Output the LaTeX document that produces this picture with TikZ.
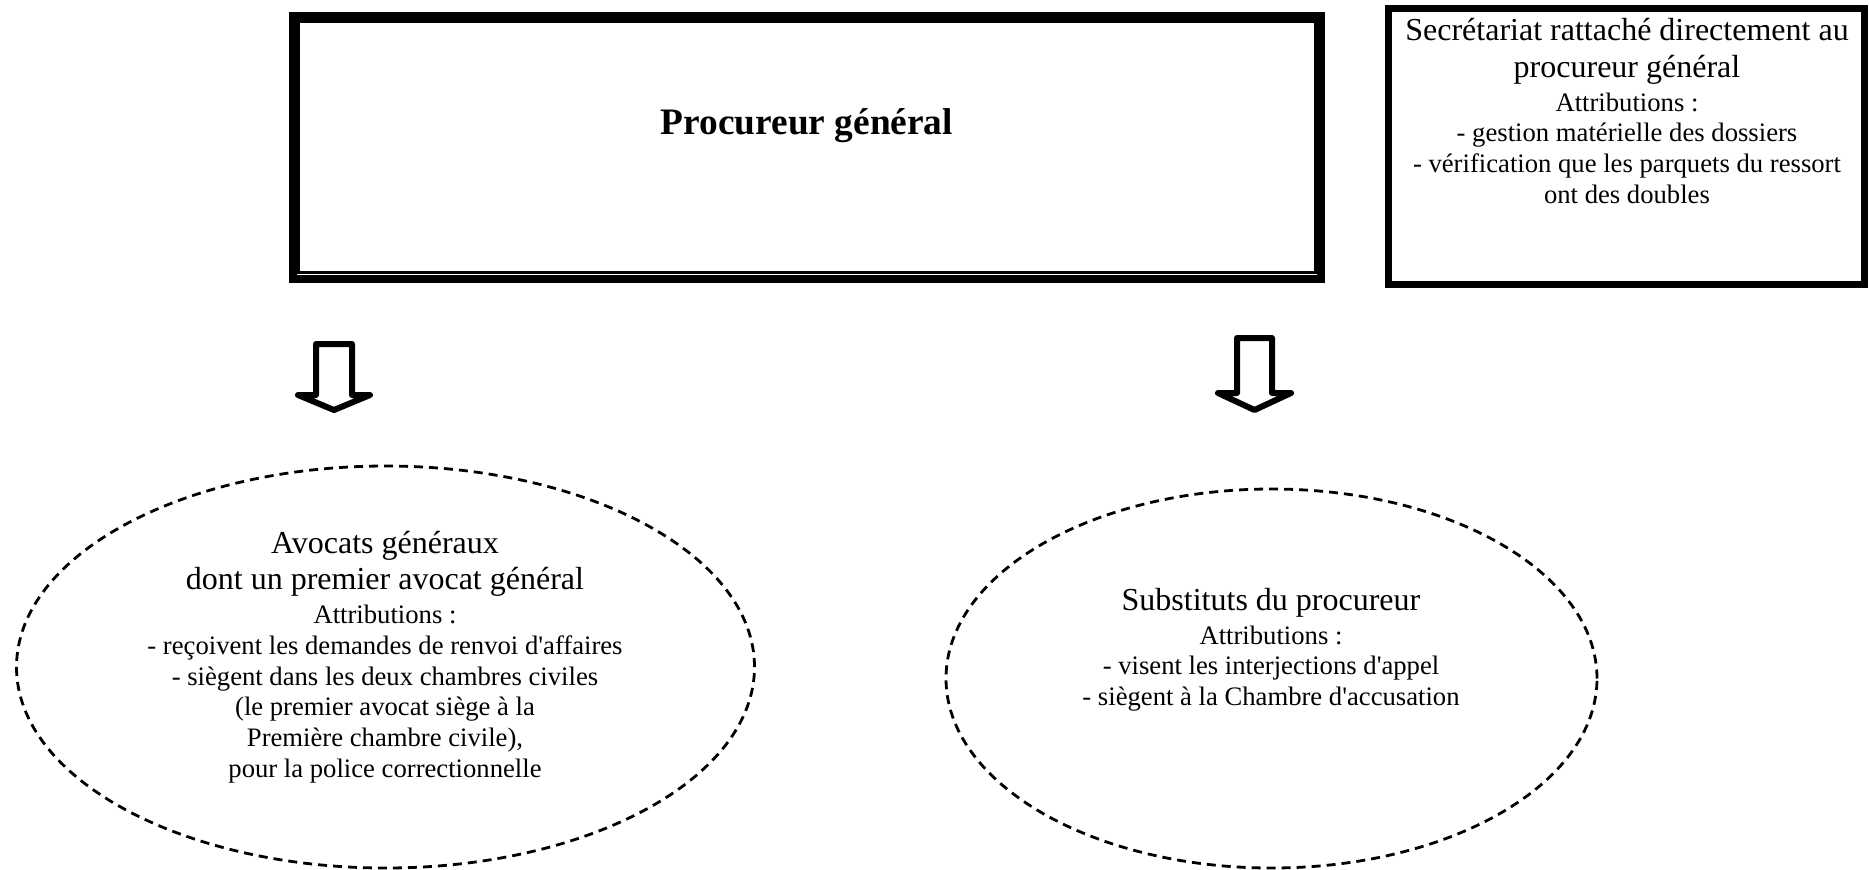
\documentclass[tikz,border=0pt]{standalone}
\usepackage{fontspec}
\setmainfont{Liberation Serif}
\usetikzlibrary{shapes}
\usetikzlibrary{positioning}
\newcommand{\bigtxt}{\fontsize{16pt}{18.4pt}\selectfont}
\newcommand{\smalltxt}{\fontsize{13.33pt}{15.33pt}\selectfont}
\newcommand{\titletxt}{\fontsize{18.67pt}{21.5pt}\selectfont\bfseries}
\newcommand{\Q}{\textquotesingle}
\tikzset{
    mainbox/.style = {rectangle, line width=4pt, draw=black, minimum width=514.25pt, minimum height=131.25pt},
    innerline/.style = {line width=1.2pt, draw=black},
    secbox/.style = {rectangle, line width=3.5pt, draw=black, minimum width=238pt, minimum height=137.75pt},
    dashell/.style = {ellipse, draw=black, line width=1.4pt, dash pattern=on 4.5pt off 3pt, inner sep=0pt},
    bigarrow/.style = {line width=3pt, line join=round, draw=black}, % block arrow
    txt/.style = {align=center, font=\smalltxt, inner sep=0pt}
}

\begin{document}
\begin{tikzpicture}[x=0.5pt,y=-0.5pt]
\useasboundingbox (0,0) rectangle (1869,869);
\node[mainbox] at (806.75,147.25) (pg) {};
\draw[innerline] ([shift={(10,9.5)}]pg.north west) rectangle ([shift={(-9.5,-10)}]pg.south east);
\node[font=\titletxt, anchor=base, inner sep=0pt] at (807,134) (pgtxt) {Procureur général};
\node[secbox] at (1626.5,146.25) (sec) {};
\node[txt] at (1627,111) (sectxt) {{\bigtxt Secrétariat rattaché directement au}\\[2.7pt]
  {\bigtxt procureur général}\\[1.7pt]
  Attributions :\\
  - gestion matérielle des dossiers\\
  - vérification que les parquets du ressort\\
  ont des doubles};
%
\node[dashell, minimum width=369pt, minimum height=201pt] at (385.5,667) (avoc) {};
\node[txt] at (385,657) (avoctxt) {{\bigtxt Avocats généraux}\\[2.7pt]
  {\bigtxt dont un premier avocat général}\\[1.7pt]
  Attributions :\\
  - reçoivent les demandes de renvoi d\Q affaires\\
  - siègent dans les deux chambres civiles\\
  (le premier avocat siège à la\\
  Première chambre civile),\\
  pour la police correctionnelle};
\node[dashell, minimum width=325.5pt, minimum height=189.5pt] at (1271.5,678.5) (subst) {};
\node[txt] at (1271,649.5) (substtxt) {{\bigtxt Substituts du procureur}\\[1.7pt]
  Attributions :\\
  - visent les interjections d\Q appel\\
  - siègent à la Chambre d\Q accusation};
%
\draw[bigarrow] (316,344) -- (352,344) -- (352,395) -- (370,395) -- (334,410) -- (298,395) -- (316,395) -- cycle;
\draw[bigarrow] (1237,338) -- (1272,338) -- (1272,393) -- (1291,393) -- (1254.5,410) -- (1218,393) -- (1237,393) -- cycle;
\end{tikzpicture}
\end{document}
